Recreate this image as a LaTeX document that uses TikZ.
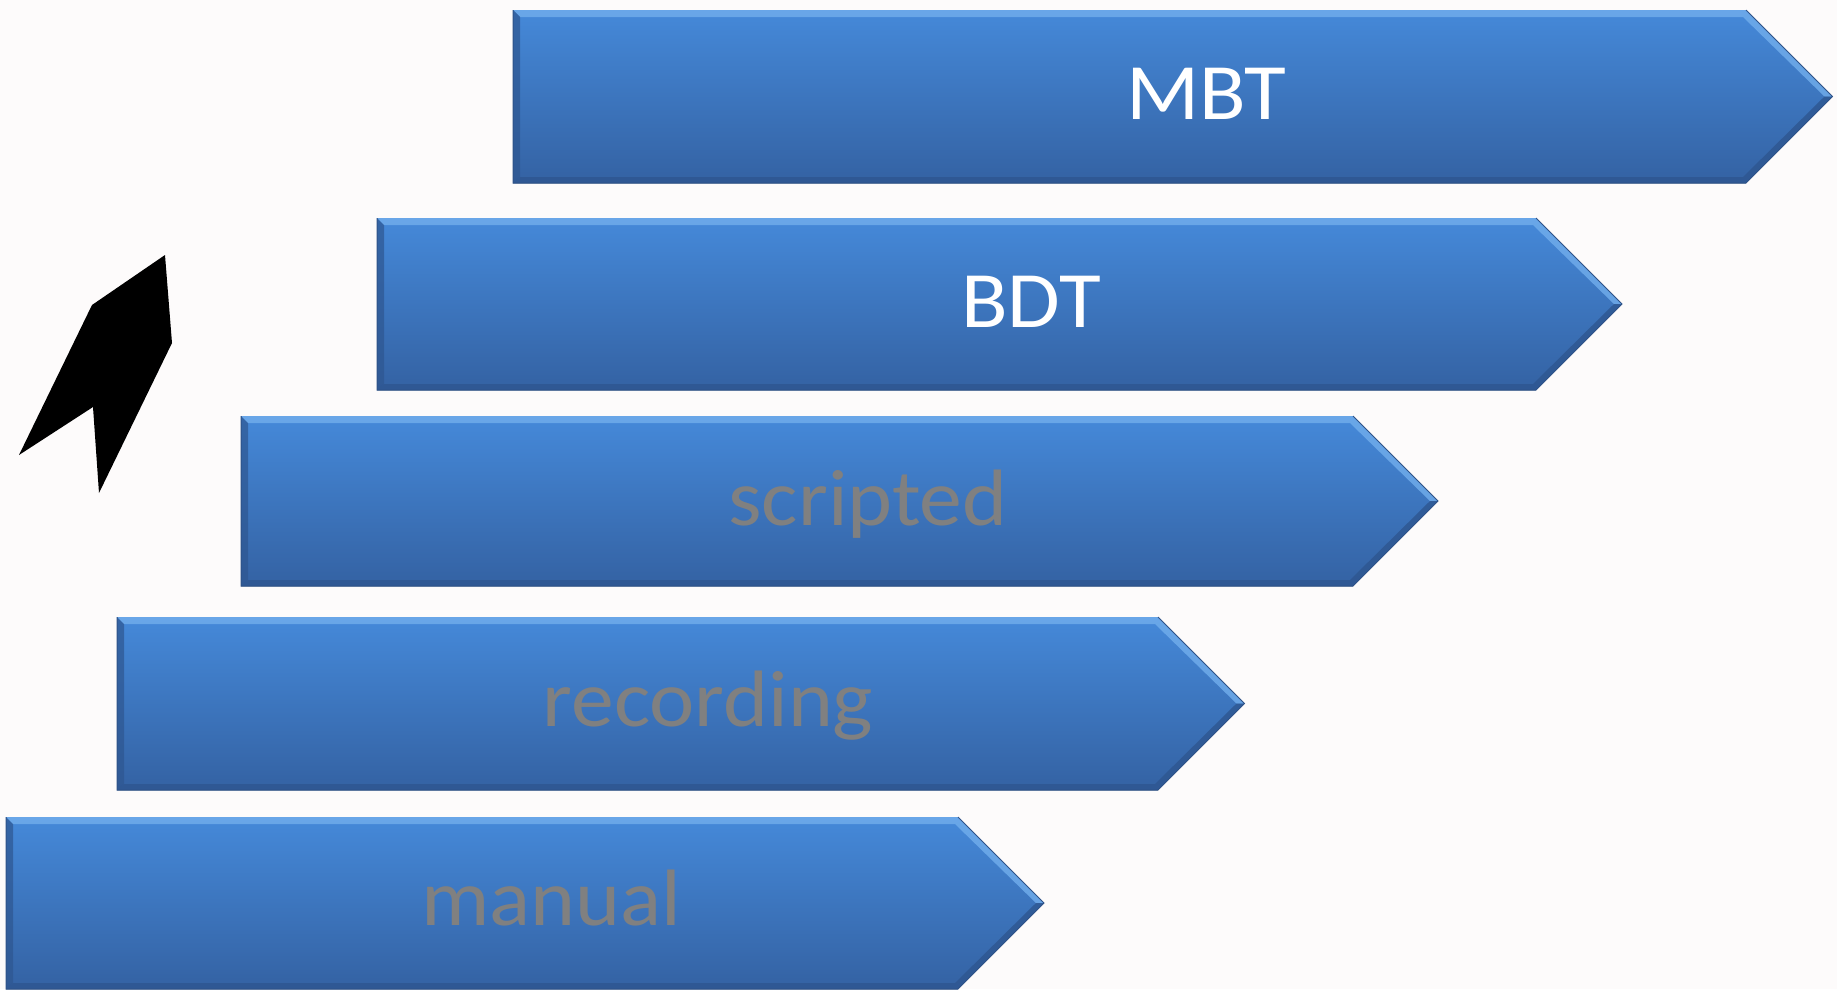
\documentclass[tikz,border=0pt]{standalone}
\usepackage{fontspec}
\setmainfont{Carlito}[FakeStretch=1.07]
\begin{document}
\definecolor{bg}{HTML}{FDFBFB}
\definecolor{chevtop}{HTML}{4589D9}
\definecolor{chevbot}{HTML}{3462A3}
\definecolor{chevline}{HTML}{2E5288}
\definecolor{bevlight}{HTML}{72AEEC}
\definecolor{bevdark}{HTML}{2E5690}
\definecolor{labgray}{HTML}{808080}
\tikzset{
  chevbody/.style={top color=chevtop, bottom color=chevbot},
  chevedge/.style={draw=chevline, line width=1pt, line join=miter},
  lab/.style={font=\fontsize{80}{80}\selectfont, anchor=base, inner sep=0pt},
}
% one chevron: #1 left x, #2 end of the straight part, #3 top y, #4 bottom y
\newcommand\chevron[4]{%
  \pgfmathsetmacro\hh{(#4-#3)/2}%
  \fill[chevbody] (#1,#3) -- (#2,#3) -- ({#2+\hh},{#3+\hh}) -- (#2,#4) -- (#1,#4) -- cycle;
  % bevel: light upper edges, darker lower and left edges
  \fill[bevlight, opacity=0.8] (#1,#3) -- (#2,#3) -- ({#2+\hh},{#3+\hh}) -- ({#2+\hh-8},{#3+\hh}) -- ({#2-3},{#3+7}) -- ({#1+7},{#3+7}) -- cycle;
  \fill[bevdark, opacity=0.7] (#1,#3) -- ({#1+7},{#3+7}) -- ({#1+7},{#4-6}) -- (#1,#4) -- cycle;
  \fill[bevdark, opacity=0.8] (#1,#4) -- ({#1+7},{#4-6}) -- ({#2-3},{#4-6}) -- ({#2+\hh-8},{#3+\hh}) -- ({#2+\hh},{#3+\hh}) -- (#2,#4) -- cycle;
  \draw[chevedge] (#2,#3) -- ({#2+\hh},{#3+\hh}) -- (#2,#4) -- (#1,#4) -- (#1,#3);
}
\begin{tikzpicture}[x=1pt, y=-1pt]
  \useasboundingbox (0,0) rectangle (1837,989);
  \fill[bg] (0,0) rectangle (1837,989);

  \chevron{513}{1746}{10}{183}
  \chevron{377}{1536}{218}{390}
  \chevron{241}{1353}{416}{586}
  \chevron{117}{1158}{617}{790}
  \chevron{6}{958}{817}{989}

  \node[lab, text=white]    (mbt)       at (1206,119) {MBT};
  \node[lab, text=white]    (bdt)       at (1031,327) {BDT};
  \node[lab, text=labgray]  (scripted)  at (868,525)  {scripted};
  \node[lab, text=labgray]  (recording) at (708,726)  {recording};
  \node[lab, text=labgray]  (manual)    at (551,925)  {manual};

  % upward-pointing black arrow
  \fill[black] (165,255) -- (172,343) -- (99,493) -- (93,407) -- (19,455) -- (92,305) -- cycle;
\end{tikzpicture}
\end{document}
